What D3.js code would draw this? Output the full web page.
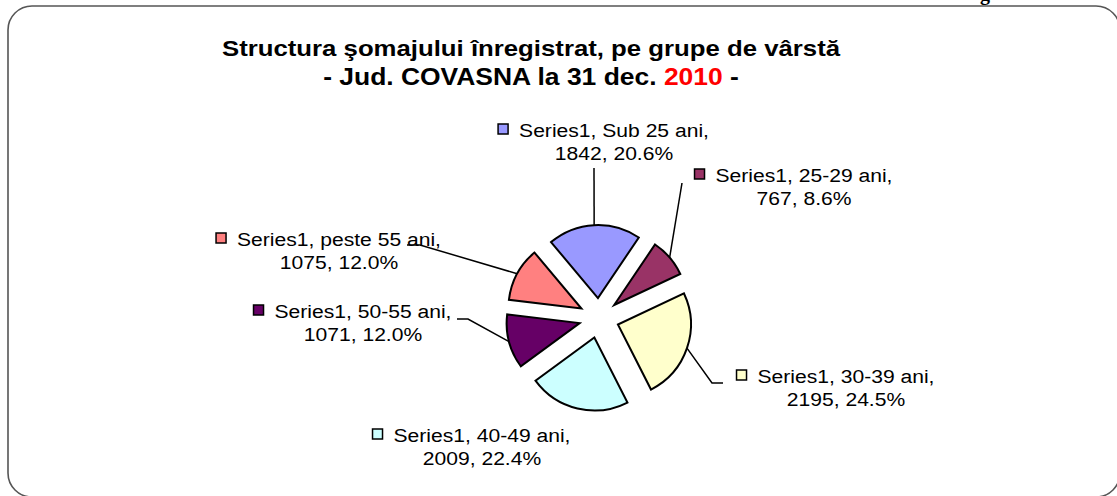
<!DOCTYPE html>
<html>
<head>
<meta charset="utf-8">
<script src="https://cdn.jsdelivr.net/npm/d3@7"></script>
<style>
  html, body { margin: 0; padding: 0; background: #fff; }
  svg { display: block; }
</style>
</head>
<body>
<script>
// ---- data ----
const seriesName = "Series1";
const categories = ["Sub 25 ani", "25-29 ani", "30-39 ani", "40-49 ani", "50-55 ani", "peste 55 ani"];
const values = [1842, 767, 2195, 2009, 1071, 1075];
const colors = ["#9999FF", "#993366", "#FFFFCC", "#CCFFFF", "#660066", "#FF8080"];
const titleLine1 = "Structura şomajului înregistrat, pe grupe de vârstă";
const titleLine2 = ["- Jud. COVASNA la 31 dec. ", "2010", " -"];

// ---- layout (positions only) ----
const W = 1117, H = 496;
const cx = 599, cy = 318, R = 73, explode = 20;
const startDeg = -40;
// label anchors: text centre x, first baseline y, leader waypoints after the arc point
const labelLayout = [
  { x: 614, y: 137, leader: [[594, 168]] },
  { x: 804, y: 182, leader: [[682, 183]] },
  { x: 846, y: 383, leader: [[712, 383], [723, 383]] },
  { x: 482, y: 442, leader: [] },
  { x: 363, y: 318, leader: [[468, 319], [457, 319]] },
  { x: 339, y: 246, leader: [[420, 245], [407, 245]] }
];
const labelFont = 19, labelScaleX = 1.11, lineGap = 23;

const svg = d3.select("body").append("svg").attr("width", W).attr("height", H);

// frame
svg.append("rect")
  .attr("x", 8).attr("y", 6).attr("width", 1112).attr("height", 491)
  .attr("rx", 24).attr("ry", 24)
  .attr("fill", "#fff").attr("stroke", "#555").attr("stroke-width", 1.6);

// stray glyph of text above the frame (cut off in the original too)
svg.append("text").attr("x", 985).attr("y", 0).attr("text-anchor", "middle")
  .attr("font-family", "Liberation Serif, serif").attr("font-weight", "bold")
  .attr("font-size", 20).text("g");

// title
const title = svg.append("g").attr("font-family", "Liberation Sans, Arial, sans-serif")
  .attr("font-weight", "bold").attr("font-size", 23).attr("text-anchor", "middle");
title.append("text").attr("transform", "translate(531,56) scale(1.12,1)").text(titleLine1);
const t2 = title.append("text").attr("transform", "translate(531,85) scale(1.15,1)");
t2.append("tspan").text(titleLine2[0]);
t2.append("tspan").attr("fill", "#FF0000").text(titleLine2[1]);
t2.append("tspan").text(titleLine2[2]);

// pie
const total = d3.sum(values);
const data = categories.map((c, i) => ({ cat: c, value: values[i], color: colors[i], i }));
const start = startDeg * Math.PI / 180;
const pie = d3.pie().sort(null).value(d => d.value).startAngle(start).endAngle(start + 2 * Math.PI);
const arcs = pie(data);
const arc = d3.arc().innerRadius(0).outerRadius(R);
const offset = a => {
  const m = (a.startAngle + a.endAngle) / 2;
  return [Math.sin(m) * explode, -Math.cos(m) * explode];
};

const pieG = svg.append("g").attr("transform", `translate(${cx},${cy})`);
pieG.selectAll("path").data(arcs).join("path")
  .attr("transform", d => { const o = offset(d); return `translate(${o[0]},${o[1]})`; })
  .attr("d", arc)
  .attr("fill", d => d.data.color)
  .attr("stroke", "#000").attr("stroke-width", 2).attr("stroke-linejoin", "miter");

// leader lines
const pct = d3.format(".1%");
arcs.forEach((a, i) => {
  const L = labelLayout[i];
  if (!L.leader.length) return;
  const m = (a.startAngle + a.endAngle) / 2;
  const p0 = [cx + Math.sin(m) * (R + explode), cy - Math.cos(m) * (R + explode)];
  const pts = [p0].concat(L.leader);
  svg.append("path").attr("d", d3.line()(pts))
    .attr("fill", "none").attr("stroke", "#000").attr("stroke-width", 1.5);
});

// labels
const labG = svg.append("g").attr("font-family", "Liberation Sans, Arial, sans-serif")
  .attr("font-size", labelFont).attr("fill", "#000").attr("text-anchor", "middle");
arcs.forEach((a, i) => {
  const L = labelLayout[i];
  const l1 = labG.append("text")
    .attr("transform", `translate(${L.x},${L.y}) scale(${labelScaleX},1)`)
    .text(`${seriesName}, ${a.data.cat},`);
  labG.append("text")
    .attr("transform", `translate(${L.x},${L.y + lineGap}) scale(${labelScaleX},1)`)
    .text(`${a.data.value}, ${pct(a.data.value / total)}`);
  const w = l1.node().getComputedTextLength() * labelScaleX;
  const left = L.x - w / 2;
  svg.append("rect")
    .attr("x", left - 21).attr("y", L.y - 13).attr("width", 10).attr("height", 10)
    .attr("fill", a.data.color).attr("stroke", "#000").attr("stroke-width", 1.5);
});
</script>
</body>
</html>
